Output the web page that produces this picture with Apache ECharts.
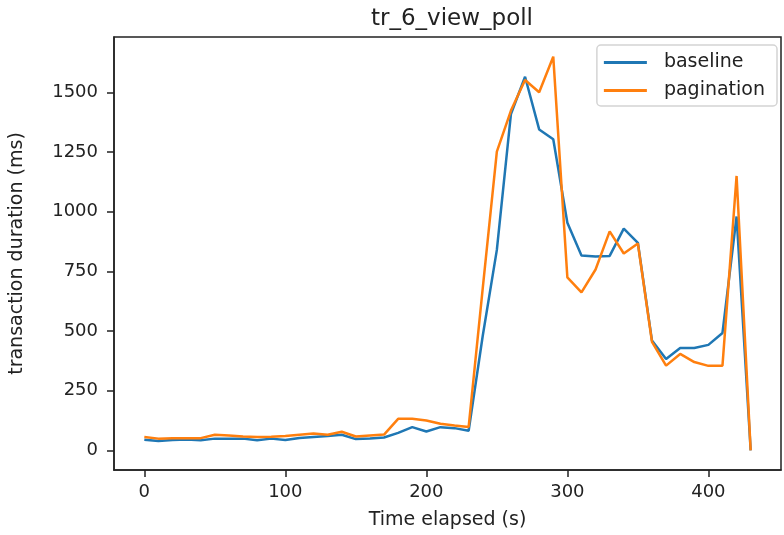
<!DOCTYPE html>
<html>
<head>
<meta charset="utf-8">
<script src="https://cdn.jsdelivr.net/npm/echarts@6/dist/echarts.min.js"></script>
<style>
  html, body { margin: 0; padding: 0; background: #fff; }
  #chart { width: 784px; height: 535px; }
</style>
</head>
<body>
<div id="chart"></div>
<script>
// 时间轴（秒）
const times = [0, 10, 20, 30, 40, 50, 60, 70, 80, 90, 100, 110, 120, 130, 140, 150, 160, 170, 180, 190,
  200, 210, 220, 230, 240, 250, 260, 270, 280, 290, 300, 310, 320, 330, 340, 350, 360, 370, 380, 390,
  400, 410, 420, 430];

// baseline 每个时间点的耗时 (ms)
const baseline = [44, 39, 43, 45, 42, 49, 49, 49, 42, 49, 43, 52, 56, 60, 65, 47, 50, 54, 73, 97,
  79, 97, 93, 82, 480, 840, 1410, 1566, 1345, 1304, 954, 817, 812, 815, 929, 870, 460, 383, 429, 429,
  442, 492, 980, 0];

// pagination 每个时间点的耗时 (ms)
const pagination = [56, 49, 51, 51, 51, 65, 62, 58, 56, 57, 60, 65, 70, 65, 78, 58, 62, 66, 132, 132,
  125, 111, 104, 98, 680, 1252, 1424, 1552, 1501, 1650, 725, 662, 758, 918, 825, 867, 455, 355, 404, 370,
  354, 355, 1150, 0];

// 刻度
const xTicks = [0, 100, 200, 300, 400];
const yTicks = [0, 250, 500, 750, 1000, 1250, 1500];

const chart = echarts.init(document.getElementById('chart'), null, { renderer: 'canvas' });

const font = 'DejaVu Sans';
const textColor = '#222';
const spine = '#222';

function pairs(values) {
  return times.map((t, i) => [t, values[i]]);
}

chart.setOption({
  animation: false,
  title: {
    text: 'tr_6_view_poll',
    left: 447,
    top: 3,
    textAlign: 'center',
    textStyle: { fontFamily: font, fontSize: 23, fontWeight: 'normal', color: textColor }
  },
  grid: {
    left: 114,
    right: 3,
    top: 37,
    bottom: 64,
    show: true,
    borderColor: spine,
    borderWidth: 1.5,
    backgroundColor: '#fff'
  },
  legend: {
    orient: 'vertical',
    right: 7,
    top: 45,
    padding: [8, 12, 6, 7],
    itemGap: 9,
    itemWidth: 43,
    itemHeight: 3,
    icon: 'rect',
    backgroundColor: 'rgba(255,255,255,0.8)',
    borderColor: '#d4d4d4',
    borderWidth: 1.5,
    borderRadius: 4,
    textStyle: { fontFamily: font, fontSize: 19, color: textColor, padding: [0, 0, 0, 12] },
    data: ['baseline', 'pagination']
  },
  xAxis: {
    type: 'value',
    min: -21.5,
    max: 451.5,
    name: 'Time elapsed (s)',
    nameLocation: 'middle',
    nameGap: 41,
    nameTextStyle: { fontFamily: font, fontSize: 19, color: textColor },
    axisLine: { show: true, onZero: false, lineStyle: { color: spine, width: 1.5 } },
    axisTick: { show: true, length: 7, customValues: xTicks, lineStyle: { color: spine, width: 1.5 } },
    axisLabel: { customValues: xTicks, fontFamily: font, fontSize: 18, color: textColor, margin: 13 },
    splitLine: { show: false }
  },
  yAxis: {
    type: 'value',
    min: -82.5,
    max: 1732.5,
    name: 'transaction duration (ms)',
    nameLocation: 'middle',
    nameGap: 87,
    nameRotate: 90,
    nameTextStyle: { fontFamily: font, fontSize: 19, color: textColor },
    axisLine: { show: true, onZero: false, lineStyle: { color: spine, width: 1.5 } },
    axisTick: { show: true, length: 7, customValues: yTicks, lineStyle: { color: spine, width: 1.5 } },
    axisLabel: {
      customValues: yTicks,
      formatter: v => String(v),
      fontFamily: font,
      fontSize: 18,
      color: textColor,
      margin: 16
    },
    splitLine: { show: false }
  },
  series: [
    {
      name: 'baseline',
      type: 'line',
      data: pairs(baseline),
      showSymbol: false,
      symbol: 'none',
      color: '#1f77b4',
      lineStyle: { width: 2.5, color: '#1f77b4' }
    },
    {
      name: 'pagination',
      type: 'line',
      data: pairs(pagination),
      showSymbol: false,
      symbol: 'none',
      color: '#ff7f0e',
      lineStyle: { width: 2.5, color: '#ff7f0e' }
    }
  ]
});
</script>
</body>
</html>
